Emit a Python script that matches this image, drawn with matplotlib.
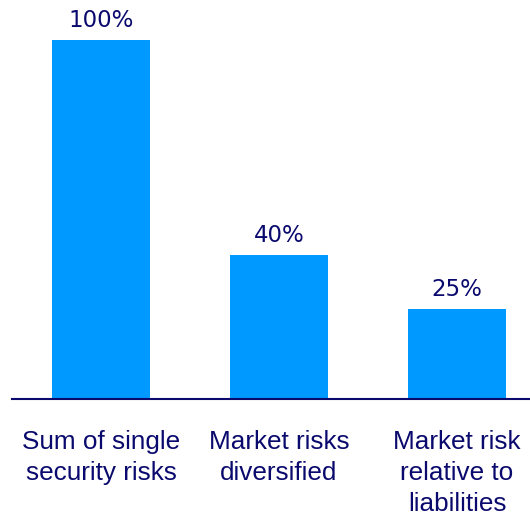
import matplotlib
matplotlib.use("Agg")
import matplotlib.pyplot as plt

categories = ["Sum of single\nsecurity risks", "Market risks\ndiversified", "Market risk\nrelative to\nliabilities"]
values = [100, 40, 25]
value_labels = ["100%", "40%", "25%"]

BAR_COLOR = "#0099FF"
TEXT_COLOR = "#0A0A6E"

fig = plt.figure(figsize=(5.30, 5.17), dpi=100)
ax = fig.add_axes([12 / 530, 1 - 399 / 517, 518 / 530, 359 / 517])

x = list(range(len(values)))
ax.bar(x, values, width=0.55, color=BAR_COLOR)
ax.set_xlim(-0.5, 2.41)
ax.set_ylim(0, 100)

# percentage labels above the bars
for xi, v, lab in zip(x, values, value_labels):
    ax.annotate(lab, (xi, v), xytext=(0, 6), textcoords="offset points",
                ha="center", va="bottom", fontsize=16.5, color=TEXT_COLOR,
                family="DejaVu Sans", annotation_clip=False)

# category names under the baseline
for xi, cat in zip(x, categories):
    ax.annotate(cat, (xi, 0), xytext=(0, -22), textcoords="offset points",
                ha="center", va="top", fontsize=18.8, color=TEXT_COLOR,
                family="Liberation Sans", linespacing=1.39, annotation_clip=False)

for side in ["left", "right", "top"]:
    ax.spines[side].set_visible(False)
ax.spines["bottom"].set_color(TEXT_COLOR)
ax.spines["bottom"].set_linewidth(1.5)
ax.set_xticks([])
ax.set_yticks([])

fig.savefig("out.png", dpi=100)
